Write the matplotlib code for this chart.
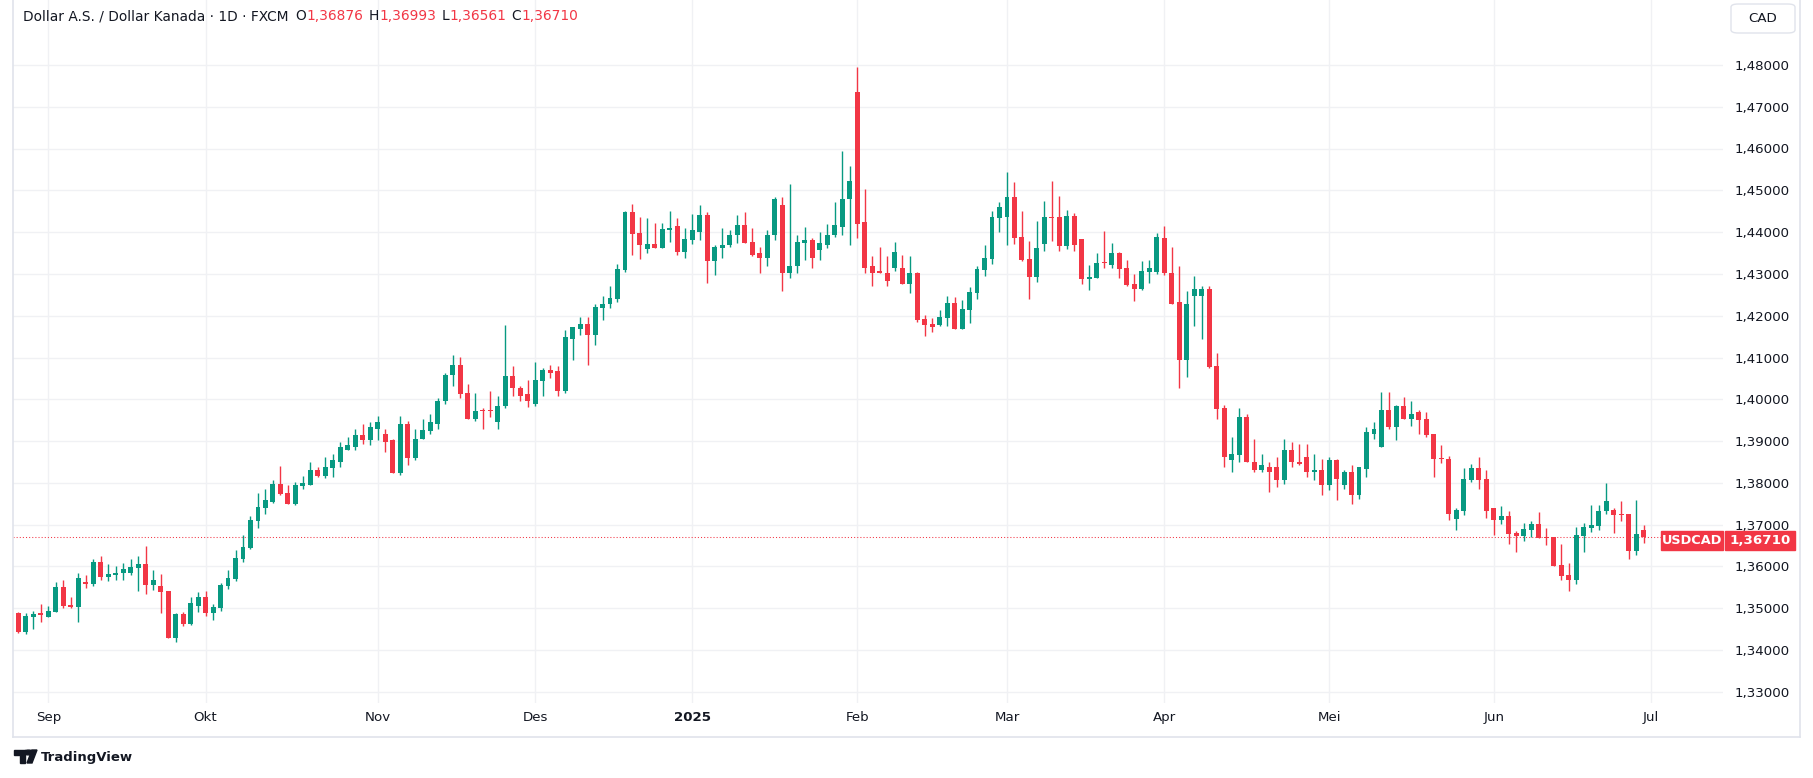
import numpy as np
import pandas as pd
import matplotlib
matplotlib.use("Agg")
import matplotlib.pyplot as plt
from matplotlib.patches import Rectangle, FancyBboxPatch, Circle, Polygon

# hari perdagangan yang tampil di grafik (FXCM tidak punya bar 25 Des dan 1 Jan)
tanggal = pd.bdate_range("2024-08-27", "2025-06-30")
tanggal = tanggal[~tanggal.isin(pd.to_datetime(["2024-12-25", "2025-01-01"]))]

opens = [1.3489, 1.3443, 1.3480, 1.3486, 1.3480, 1.3491, 1.3551, 1.3508, 1.3503, 1.3560,
         1.3558, 1.3610, 1.3575, 1.3579, 1.3584, 1.3584, 1.3596, 1.3606, 1.3556, 1.3553,
         1.3541, 1.3429, 1.3486, 1.3463, 1.3505, 1.3527, 1.3489, 1.3501, 1.3553, 1.3570,
         1.3618, 1.3644, 1.3708, 1.3739, 1.3754, 1.3797, 1.3775, 1.3749, 1.3792, 1.3796,
         1.3830, 1.3816, 1.3835, 1.3851, 1.3878, 1.3887, 1.3914, 1.3902, 1.3930, 1.3916,
         1.3902, 1.3823, 1.3940, 1.3859, 1.3904, 1.3923, 1.3942, 1.3995, 1.4057, 1.4083,
         1.4014, 1.3954, 1.3973, 1.3973, 1.3945, 1.3983, 1.4055, 1.4028, 1.4012, 1.3988,
         1.4043, 1.4069, 1.4067, 1.4021, 1.4145, 1.4169, 1.4181, 1.4155, 1.4218, 1.4227,
         1.4239, 1.4309, 1.4448, 1.4398, 1.4359, 1.4371, 1.4362, 1.4405, 1.4414, 1.4352,
         1.4380, 1.4401, 1.4442, 1.4330, 1.4363, 1.4368, 1.4392, 1.4416, 1.4377, 1.4349,
         1.4337, 1.4392, 1.4464, 1.4303, 1.4318, 1.4375, 1.4382, 1.4356, 1.4370, 1.4392,
         1.4413, 1.4478, 1.4736, 1.4423, 1.4318, 1.4306, 1.4303, 1.4313, 1.4315, 1.4277,
         1.4301, 1.4192, 1.4180, 1.4178, 1.4195, 1.4231, 1.4168, 1.4214, 1.4254, 1.4309,
         1.4336, 1.4434, 1.4436, 1.4484, 1.4388, 1.4336, 1.4293, 1.4372, 1.4436, 1.4436,
         1.4367, 1.4439, 1.4384, 1.4288, 1.4290, 1.4326, 1.4321, 1.4350, 1.4314, 1.4276,
         1.4264, 1.4305, 1.4305, 1.4387, 1.4303, 1.4232, 1.4094, 1.4246, 1.4246, 1.4265,
         1.4079, 1.3978, 1.3854, 1.3866, 1.3957, 1.3851, 1.3830, 1.3839, 1.3839, 1.3806,
         1.3878, 1.3851, 1.3861, 1.3827, 1.3830, 1.3796, 1.3854, 1.3794, 1.3825, 1.3772,
         1.3834, 1.3918, 1.3885, 1.3974, 1.3933, 1.3983, 1.3954, 1.3969, 1.3952, 1.3916,
         1.3860, 1.3857, 1.3714, 1.3733, 1.3807, 1.3836, 1.3809, 1.3740, 1.3711, 1.3721,
         1.3680, 1.3673, 1.3687, 1.3702, 1.3671, 1.3671, 1.3604, 1.3580, 1.3568, 1.3673,
         1.3692, 1.3697, 1.3733, 1.3735, 1.3726, 1.3726, 1.3637, 1.36876]
highs = [1.3490, 1.3489, 1.3494, 1.3510, 1.3505, 1.3563, 1.3568, 1.3527, 1.3584, 1.3579,
         1.3618, 1.3625, 1.3606, 1.3601, 1.3608, 1.3618, 1.3625, 1.3649, 1.3591, 1.3582,
         1.3542, 1.3489, 1.3491, 1.3527, 1.3539, 1.3541, 1.3510, 1.3560, 1.3591, 1.3639,
         1.3675, 1.3720, 1.3775, 1.3785, 1.3806, 1.3840, 1.3794, 1.3801, 1.3816, 1.3849,
         1.3837, 1.3863, 1.3868, 1.3897, 1.3909, 1.3930, 1.3940, 1.3945, 1.3959, 1.3928,
         1.3906, 1.3959, 1.3949, 1.3928, 1.3952, 1.3966, 1.4002, 1.4064, 1.4105, 1.4102,
         1.4036, 1.4014, 1.3978, 1.4021, 1.4007, 1.4177, 1.4079, 1.4031, 1.4045, 1.4090,
         1.4076, 1.4083, 1.4079, 1.4165, 1.4174, 1.4196, 1.4198, 1.4227, 1.4246, 1.4270,
         1.4323, 1.4450, 1.4467, 1.4436, 1.4434, 1.4422, 1.4422, 1.4450, 1.4434, 1.4410,
         1.4443, 1.4464, 1.4449, 1.4370, 1.4409, 1.4404, 1.4442, 1.4447, 1.4411, 1.4365,
         1.4404, 1.4485, 1.4485, 1.4516, 1.4392, 1.4413, 1.4385, 1.4401, 1.4420, 1.4471,
         1.4595, 1.4559, 1.4794, 1.4502, 1.4344, 1.4365, 1.4344, 1.4377, 1.4346, 1.4342,
         1.4305, 1.4202, 1.4195, 1.4214, 1.4247, 1.4245, 1.4238, 1.4269, 1.4319, 1.4369,
         1.4451, 1.4472, 1.4543, 1.4519, 1.4451, 1.4379, 1.4427, 1.4475, 1.4522, 1.4486,
         1.4453, 1.4446, 1.4384, 1.4321, 1.4350, 1.4403, 1.4374, 1.4353, 1.4333, 1.4300,
         1.4331, 1.4333, 1.4398, 1.4415, 1.4365, 1.4318, 1.4258, 1.4296, 1.4272, 1.4272,
         1.4110, 1.3986, 1.3911, 1.3978, 1.3966, 1.3906, 1.3870, 1.3849, 1.3861, 1.3904,
         1.3899, 1.3892, 1.3892, 1.3870, 1.3856, 1.3861, 1.3856, 1.3830, 1.3844, 1.3839,
         1.3933, 1.3945, 1.4017, 1.4017, 1.3986, 1.4005, 1.3995, 1.3974, 1.3969, 1.3918,
         1.3891, 1.3864, 1.3740, 1.3836, 1.3845, 1.3862, 1.3831, 1.3740, 1.3745, 1.3733,
         1.3685, 1.3704, 1.3709, 1.3731, 1.3692, 1.3671, 1.3654, 1.3609, 1.3695, 1.3704,
         1.3747, 1.3747, 1.3800, 1.3740, 1.3757, 1.3726, 1.3759, 1.36993]
lows = [1.3442, 1.3439, 1.3451, 1.3467, 1.3479, 1.3490, 1.3501, 1.3501, 1.3467, 1.3548,
        1.3553, 1.3568, 1.3565, 1.3568, 1.3568, 1.3579, 1.3541, 1.3534, 1.3544, 1.3489,
        1.3428, 1.3420, 1.3458, 1.3460, 1.3491, 1.3482, 1.3472, 1.3494, 1.3546, 1.3565,
        1.3610, 1.3641, 1.3692, 1.3725, 1.3751, 1.3770, 1.3749, 1.3747, 1.3785, 1.3796,
        1.3813, 1.3811, 1.3813, 1.3837, 1.3878, 1.3878, 1.3894, 1.3890, 1.3902, 1.3875,
        1.3823, 1.3818, 1.3842, 1.3854, 1.3904, 1.3916, 1.3930, 1.3988, 1.4033, 1.4004,
        1.3954, 1.3949, 1.3930, 1.3957, 1.3928, 1.3978, 1.4009, 1.3997, 1.3981, 1.3985,
        1.4009, 1.4052, 1.4009, 1.4016, 1.4093, 1.4155, 1.4081, 1.4131, 1.4190, 1.4218,
        1.4232, 1.4304, 1.4345, 1.4335, 1.4350, 1.4362, 1.4362, 1.4376, 1.4345, 1.4338,
        1.4371, 1.4382, 1.4279, 1.4298, 1.4339, 1.4365, 1.4375, 1.4375, 1.4342, 1.4301,
        1.4320, 1.4382, 1.4260, 1.4289, 1.4301, 1.4334, 1.4315, 1.4334, 1.4363, 1.4389,
        1.4392, 1.4370, 1.4387, 1.4301, 1.4270, 1.4301, 1.4272, 1.4306, 1.4277, 1.4255,
        1.4185, 1.4152, 1.4161, 1.4175, 1.4175, 1.4168, 1.4168, 1.4183, 1.4240, 1.4295,
        1.4324, 1.4400, 1.4369, 1.4372, 1.4331, 1.4240, 1.4281, 1.4355, 1.4379, 1.4355,
        1.4360, 1.4355, 1.4276, 1.4262, 1.4290, 1.4314, 1.4314, 1.4290, 1.4271, 1.4235,
        1.4262, 1.4278, 1.4300, 1.4298, 1.4227, 1.4026, 1.4053, 1.4175, 1.4144, 1.4074,
        1.3952, 1.3839, 1.3827, 1.3849, 1.3849, 1.3827, 1.3827, 1.3779, 1.3791, 1.3798,
        1.3839, 1.3844, 1.3815, 1.3808, 1.3770, 1.3784, 1.3760, 1.3786, 1.3750, 1.3762,
        1.3813, 1.3906, 1.3885, 1.3930, 1.3902, 1.3954, 1.3935, 1.3916, 1.3909, 1.3813,
        1.3848, 1.3711, 1.3687, 1.3723, 1.3802, 1.3786, 1.3716, 1.3675, 1.3702, 1.3654,
        1.3635, 1.3661, 1.3671, 1.3668, 1.3652, 1.3601, 1.3568, 1.3542, 1.3558, 1.3635,
        1.3683, 1.3687, 1.3726, 1.3680, 1.3709, 1.3618, 1.3628, 1.36561]
closes = [1.3443, 1.3482, 1.3486, 1.3485, 1.3494, 1.3551, 1.3505, 1.3503, 1.3572, 1.3559,
          1.3610, 1.3575, 1.3582, 1.3584, 1.3594, 1.3599, 1.3606, 1.3556, 1.3568, 1.3539,
          1.3429, 1.3486, 1.3463, 1.3513, 1.3527, 1.3489, 1.3503, 1.3556, 1.3572, 1.3620,
          1.3646, 1.3711, 1.3742, 1.3758, 1.3797, 1.3773, 1.3749, 1.3794, 1.3799, 1.3830,
          1.3816, 1.3837, 1.3854, 1.3887, 1.3890, 1.3914, 1.3902, 1.3933, 1.3945, 1.3899,
          1.3823, 1.3940, 1.3859, 1.3904, 1.3926, 1.3945, 1.3997, 1.4059, 1.4083, 1.4012,
          1.3954, 1.3973, 1.3971, 1.3971, 1.3985, 1.4055, 1.4026, 1.4009, 1.3997, 1.4045,
          1.4069, 1.4064, 1.4021, 1.4150, 1.4172, 1.4181, 1.4155, 1.4220, 1.4227, 1.4242,
          1.4311, 1.4448, 1.4395, 1.4369, 1.4371, 1.4362, 1.4407, 1.4410, 1.4352, 1.4383,
          1.4404, 1.4442, 1.4330, 1.4365, 1.4370, 1.4394, 1.4416, 1.4375, 1.4346, 1.4337,
          1.4394, 1.4478, 1.4303, 1.4320, 1.4377, 1.4382, 1.4337, 1.4373, 1.4394, 1.4416,
          1.4480, 1.4523, 1.4420, 1.4315, 1.4303, 1.4303, 1.4284, 1.4353, 1.4277, 1.4301,
          1.4190, 1.4178, 1.4173, 1.4197, 1.4231, 1.4168, 1.4216, 1.4257, 1.4312, 1.4338,
          1.4436, 1.4460, 1.4484, 1.4386, 1.4333, 1.4293, 1.4362, 1.4436, 1.4434, 1.4367,
          1.4439, 1.4369, 1.4288, 1.4293, 1.4326, 1.4325, 1.4350, 1.4312, 1.4274, 1.4264,
          1.4307, 1.4314, 1.4388, 1.4301, 1.4229, 1.4094, 1.4227, 1.4263, 1.4265, 1.4077,
          1.3976, 1.3861, 1.3868, 1.3957, 1.3849, 1.3830, 1.3842, 1.3827, 1.3806, 1.3878,
          1.3849, 1.3846, 1.3827, 1.3830, 1.3796, 1.3854, 1.3810, 1.3825, 1.3772, 1.3837,
          1.3921, 1.3930, 1.3974, 1.3933, 1.3983, 1.3954, 1.3966, 1.3950, 1.3914, 1.3856,
          1.3857, 1.3726, 1.3735, 1.3809, 1.3836, 1.3807, 1.3733, 1.3711, 1.3721, 1.3678,
          1.3673, 1.3690, 1.3702, 1.3668, 1.3668, 1.3601, 1.3577, 1.3568, 1.3675, 1.3695,
          1.3699, 1.3733, 1.3757, 1.3723, 1.3723, 1.3637, 1.3678, 1.36710]

price_ticks = [1.33, 1.34, 1.35, 1.36, 1.37, 1.38, 1.39, 1.40,
               1.41, 1.42, 1.43, 1.44, 1.45, 1.46, 1.47, 1.48]
nama_bulan = {1: "2025", 2: "Feb", 3: "Mar", 4: "Apr", 5: "Mei", 6: "Jun",
              7: "Jul", 8: "Agu", 9: "Sep", 10: "Okt", 11: "Nov", 12: "Des"}

HIJAU = "#089981"
MERAH = "#f23645"
TEKS = "#131722"
GRID = "#f0f1f4"
BINGKAI = "#e0e3eb"

W, H = 1813, 778
fig = plt.figure(figsize=(W / 100, H / 100), dpi=100)
fig.patch.set_facecolor("white")

def fx(px):
    return px / W

def fy(py):
    return 1 - py / H

# panel harga
kiri, kanan, bawah = 13, 1723, 703
ax = fig.add_axes([fx(kiri), fy(bawah), fx(kanan - kiri), bawah / H])
x0, langkah = 18.3, 7.49
ax.set_xlim((kiri - x0) / langkah, (kanan - x0) / langkah)
y_ref, p_ref, px_per = 190.3, 1.45, 4180.0
ax.set_ylim(p_ref - (bawah - y_ref) / px_per, p_ref + y_ref / px_per)

o = np.array(opens)
h = np.array(highs)
l = np.array(lows)
c = np.array(closes)
x = np.arange(len(o))
warna = np.where(c >= o, HIJAU, MERAH)

ax.vlines(x, l, h, colors=warna, linewidth=1.0, zorder=3)
badan_bawah = np.minimum(o, c)
badan_tinggi = np.maximum(np.abs(c - o), 1.2 / px_per)
ax.bar(x, badan_tinggi, bottom=badan_bawah, width=0.66, color=warna,
       linewidth=0, zorder=4)

# garis harga terakhir
ax.axhline(c[-1], color=MERAH, linewidth=0.75, linestyle=(0, (1, 2)), zorder=2)

# posisi awal bulan dari tanggal
pos_bulan = []
label_bulan = []
for i in range(len(tanggal)):
    if i == 0 or tanggal[i].month == tanggal[i - 1].month:
        continue
    pos_bulan.append(i)
    label_bulan.append(nama_bulan[tanggal[i].month])
pos_bulan.append(len(tanggal))
label_bulan.append(nama_bulan[7])

ax.set_xticks(pos_bulan)
ax.set_xticklabels(label_bulan)
ax.set_yticks(price_ticks)
ax.set_yticklabels([f"{v:.5f}".replace(".", ",") for v in price_ticks])
ax.yaxis.tick_right()
ax.tick_params(axis="y", length=0, pad=8.6, labelsize=9.6, labelcolor=TEKS)
ax.tick_params(axis="x", length=0, pad=5.5, labelsize=9.6, labelcolor=TEKS)
for lab in ax.get_xticklabels():
    if lab.get_text() == "2025":
        lab.set_fontweight("bold")
ax.grid(True, color=GRID, linewidth=1.0, zorder=0)
ax.set_axisbelow(True)
for s in ax.spines.values():
    s.set_visible(False)

# bingkai luar
fig.add_artist(plt.Line2D([fx(13), fx(13)], [fy(0), fy(737)], color=BINGKAI, lw=1.2))
fig.add_artist(plt.Line2D([fx(1800), fx(1800)], [fy(0), fy(737)], color=BINGKAI, lw=1.2))
fig.add_artist(plt.Line2D([fx(13), fx(1800)], [fy(737), fy(737)], color=BINGKAI, lw=1.2))

# label harga terakhir
fig.add_artist(Rectangle((fx(1661), fy(550)), fx(62), 19 / H, color=MERAH, zorder=5))
fig.add_artist(Rectangle((fx(1725), fy(550)), fx(70), 19 / H, color=MERAH, zorder=5))
fig.text(fx(1692), fy(540.5), "USDCAD", color="white", fontsize=9.3,
         fontweight="semibold", ha="center", va="center", zorder=6)
fig.text(fx(1760), fy(540.5), f"{c[-1]:.5f}".replace(".", ","), color="white",
         fontsize=9.6, fontweight="semibold", ha="center", va="center", zorder=6)

# kotak mata uang
fig.add_artist(FancyBboxPatch((fx(1731), fy(33)), fx(64), 29 / H,
                              boxstyle="round,pad=0,rounding_size=0.004",
                              facecolor="white", edgecolor=BINGKAI, lw=1.0, zorder=5))
fig.text(fx(1763), fy(18), "CAD", color=TEKS, fontsize=9.6, ha="center",
         va="center", zorder=6)

# judul / legenda OHLC
potongan = [("Dollar A.S. / Dollar Kanada · 1D · FXCM", TEKS, 0),
            ("O", TEKS, 5), (f"{o[-1]:.5f}".replace(".", ","), MERAH, 0),
            ("H", TEKS, 4), (f"{h[-1]:.5f}".replace(".", ","), MERAH, 0),
            ("L", TEKS, 4), (f"{l[-1]:.5f}".replace(".", ","), MERAH, 0),
            ("C", TEKS, 4), (f"{c[-1]:.5f}".replace(".", ","), MERAH, 0)]
sebelum = fig.text(fx(23), fy(16), potongan[0][0], color=potongan[0][1],
                   fontsize=9.95, ha="left", va="center")
for teks, warna_t, jarak in potongan[1:]:
    sebelum = fig.add_artist(plt.Annotation(
        teks, xy=(1, 0), xycoords=sebelum, xytext=(jarak, 0),
        textcoords="offset points", color=warna_t, fontsize=9.95,
        ha="left", va="bottom"))

# logo TradingView
fig.add_artist(Polygon([(fx(14), fy(750)), (fx(25), fy(750)), (fx(25), fy(763)),
                        (fx(20), fy(763)), (fx(20), fy(755)), (fx(14), fy(755))],
                       closed=True, color=TEKS))
fig.add_artist(Circle((fx(28.5), fy(752.5)), 2.4 / H, color=TEKS))
fig.add_artist(Polygon([(fx(27), fy(763)), (fx(32), fy(763)), (fx(37), fy(750)),
                        (fx(32), fy(750))], closed=True, color=TEKS))
fig.text(fx(41), fy(757), "TradingView", color=TEKS, fontsize=9.5,
         fontweight="bold", ha="left", va="center")

fig.savefig("out.png", dpi=100, facecolor="white")
